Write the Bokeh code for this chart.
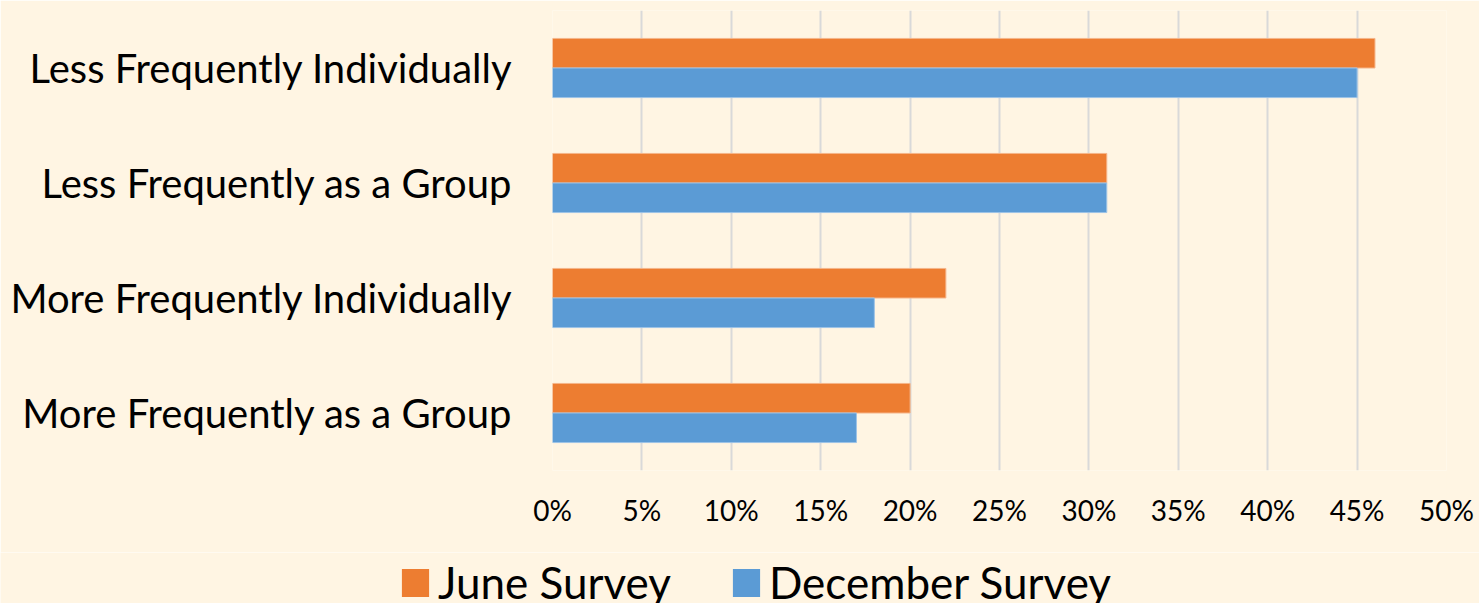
from bokeh.plotting import figure
from bokeh.models import ColumnDataSource, FactorRange, Range1d, NumeralTickFormatter, FixedTicker, Legend, LegendItem
from bokeh.transform import dodge
from bokeh.embed import file_html
from bokeh.resources import INLINE

categories = ["More Frequently as a Group", "More Frequently Individually",
              "Less Frequently as a Group", "Less Frequently Individually"]
june = [0.20, 0.22, 0.31, 0.46]
december = [0.17, 0.18, 0.31, 0.45]
x_ticks = [0, 0.05, 0.10, 0.15, 0.20, 0.25, 0.30, 0.35, 0.40, 0.45, 0.50]
series_names = ["June Survey", "December Survey"]
colors = ["#ED7D31", "#5B9BD5"]
edge_colors = ["#F5B58A", "#9DC3E6"]

src = ColumnDataSource(dict(cat=categories, june=june, dec=december))

BG = "#FFF5E3"
FONT = "Lato"

p = figure(width=1479, height=552, y_range=FactorRange(*categories, range_padding=0),
           x_range=Range1d(0, 0.5), output_backend="svg", toolbar_location=None,
           background_fill_color=BG, border_fill_color=BG, outline_line_color=None,
           min_border_left=552, min_border_right=33, min_border_top=10, min_border_bottom=82)

bh = 0.257
p.hbar(y=dodge("cat", bh / 2, range=p.y_range), right="june", left=0, height=bh, source=src,
       fill_color=colors[0], line_color=edge_colors[0], line_width=1)
p.hbar(y=dodge("cat", -bh / 2, range=p.y_range), right="dec", left=0, height=bh, source=src,
       fill_color=colors[1], line_color=edge_colors[1], line_width=1)

p.xaxis.ticker = FixedTicker(ticks=x_ticks)
p.xaxis.formatter = NumeralTickFormatter(format="0%")
p.xaxis.axis_line_color = None
p.xaxis.major_tick_line_color = None
p.xaxis.minor_tick_line_color = None
p.xaxis.major_label_text_font = FONT
p.xaxis.major_label_text_font_size = "28px"
p.xaxis.major_label_text_color = "#000000"
p.xaxis.major_label_standoff = 16

p.yaxis.axis_line_color = None
p.yaxis.major_tick_line_color = None
p.yaxis.major_label_text_font = FONT
p.yaxis.major_label_text_font_size = "40px"
p.yaxis.major_label_text_color = "#000000"
p.yaxis.major_label_standoff = 34

p.xgrid.grid_line_color = "#D9D9D9"
p.xgrid.grid_line_width = 2
p.ygrid.grid_line_color = None

# legend strip below the chart (its bars lie outside its visible range)
lg = figure(width=1479, height=51, output_backend="svg", toolbar_location=None,
            x_axis_type=None, y_axis_type=None,
            x_range=Range1d(10, 11), y_range=Range1d(10, 11),
            background_fill_color=BG, border_fill_color=BG, outline_line_color=None,
            min_border=0)
lg.xgrid.grid_line_color = None
lg.ygrid.grid_line_color = None
l1 = lg.hbar(y="june", right="june", height=0.01, source=src,
             fill_color=colors[0], line_color=None)
l2 = lg.hbar(y="dec", right="dec", height=0.01, source=src,
             fill_color=colors[1], line_color=None)

legend = Legend(items=[LegendItem(label=series_names[0], renderers=[l1]),
                       LegendItem(label=series_names[1], renderers=[l2])],
                orientation="horizontal", location=(398, -5),
                background_fill_alpha=0, border_line_color=None,
                label_text_font=FONT, label_text_font_size="44px", label_text_color="#000000",
                glyph_width=34, glyph_height=35, label_standoff=6, spacing=58,
                padding=0, margin=0)
lg.add_layout(legend, "center")

open("out.html", "w").write(file_html([p, lg], INLINE))
